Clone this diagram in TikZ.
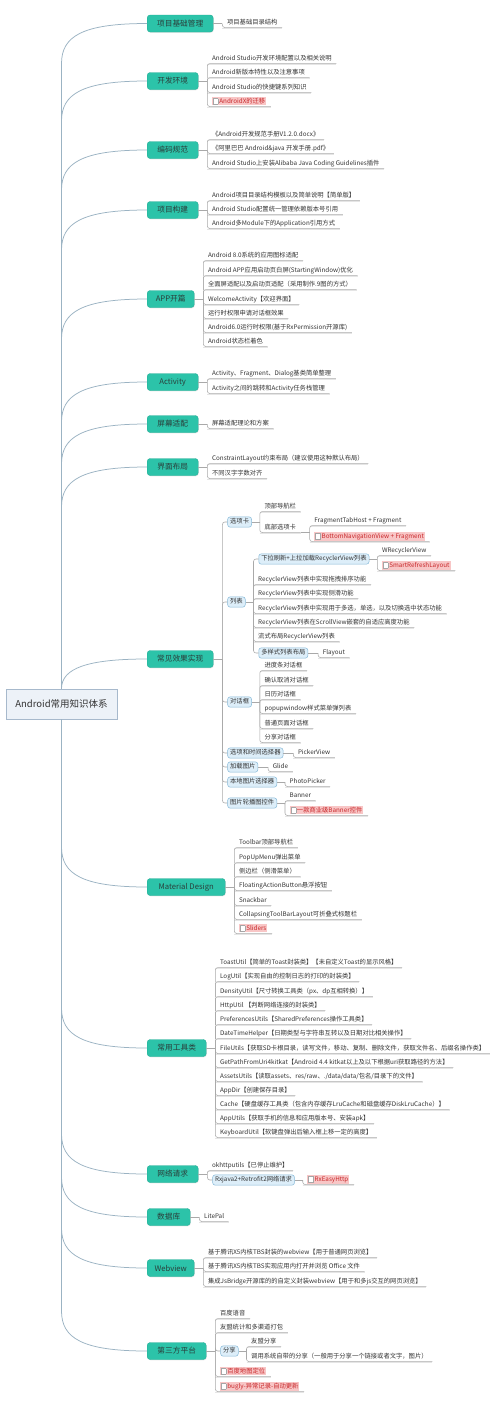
\documentclass[tikz,border=0pt]{standalone}
\usepackage{fontspec}
\setmainfont{Noto Sans CJK SC}
\usetikzlibrary{shadows}
\definecolor{mteal}{HTML}{2CC3A9}
\definecolor{mtealb}{HTML}{22AD95}
\definecolor{rootf}{HTML}{EDF2F8}
\definecolor{rootb}{HTML}{A7B9CC}
\definecolor{subf}{HTML}{DDEEF9}
\definecolor{subb}{HTML}{86B9D8}
\definecolor{pinkf}{HTML}{F8C6C6}
\definecolor{pinkt}{HTML}{C8282B}
\definecolor{txt}{HTML}{333333}
\definecolor{maintxt}{HTML}{2A3F3B}
\definecolor{conng}{HTML}{A9A9A9}
\definecolor{trunkc}{HTML}{9BB3C3}
\newcommand\lfs{\fontsize{6.3}{7}\selectfont}
\newcommand\mfs{\fontsize{7.7}{9}\selectfont}
\newcommand\rfs{\fontsize{9.5}{11}\selectfont}
\newcommand\noteicon{{\setlength\fboxsep{0pt}\setlength\fboxrule{0.35pt}\fcolorbox{gray!70}{white}{\rule{0pt}{5pt}\hspace{4.5pt}}}}
\newcommand\pinkbox[1]{{\setlength\fboxsep{1pt}\colorbox{pinkf}{\noteicon\,\textcolor{pinkt}{#1}}}}
\newcommand\leafn[4]{%
  \node[leaf] (#1) at (#2 |- 0,#3) {#4};
  \draw[lshadow] ([yshift=-0.7pt]#1.south west) -- ([yshift=-0.7pt]#1.south east);
  \draw[conn] (#2) |- (#1.south east);
}
\newcommand\subn[4]{%
  \node[sub, xshift=5pt] (#1) at (#2 |- 0,#3) {#4};
  \draw[conn] (#2) |- (#1.west);
}
\newcommand\brk[3]{\coordinate (#1) at ([xshift=#3]#2); \draw[conn] (#2) -- (#1);}
\newcommand\trunkup[2]{\draw[trunk] (root.north) -- (root.north |- 0,#2+40) .. controls (root.north |- 0,#2+13) and (82,#2) .. (#1.west);}
\newcommand\trunkdn[2]{\draw[trunk] (root.south) -- (root.south |- 0,#2-40) .. controls (root.south |- 0,#2-13) and (82,#2) .. (#1.west);}
\tikzset{
  root/.style={draw=rootb, fill=rootf, line width=0.6pt, minimum width=111pt, minimum height=30pt, font=\rfs, text=txt, inner sep=2pt,
    drop shadow={opacity=0.15, shadow xshift=0.7pt, shadow yshift=-0.8pt}},
  main/.style={fill=mteal, draw=mtealb, line width=0.4pt, rounded corners=3pt, minimum height=17pt, anchor=west, font=\mfs, text=maintxt, inner xsep=3pt,
    drop shadow={opacity=0.18, shadow xshift=0.6pt, shadow yshift=-0.8pt}},
  sub/.style={fill=subf, draw=subb, line width=0.5pt, rounded corners=2.5pt, anchor=west, font=\lfs, text=txt, inner xsep=2.5pt, inner ysep=2pt, text height=4.9pt, text depth=1.4pt},
  leaf/.style={anchor=west, font=\lfs, text=txt, inner xsep=4.5pt, inner ysep=1.2pt, text height=4.9pt, text depth=1.4pt},
  conn/.style={draw=conng, line width=0.55pt, rounded corners=2.5pt},
  trunk/.style={draw=trunkc, line width=0.75pt},
  lshadow/.style={draw=black!10, line width=0.9pt},
}
\begin{document}
\begin{tikzpicture}[x=1pt,y=-1pt]
\fill[white] (0,0) rectangle (500,1406);
\useasboundingbox (0,0) rectangle (500,1406);

% root and main topics
\node[root] (root) at (61.5,704) {Android常用知识体系};
\node[main, minimum width=66pt] (m1) at (147,23.5) {项目基础管理};
\node[main, minimum width=51pt] (m2) at (147,81) {开发环境};
\node[main, minimum width=51pt] (m3) at (147,150) {编码规范};
\node[main, minimum width=51pt] (m4) at (147,210) {项目构建};
\node[main, minimum width=47pt] (m5) at (147,299) {APP开篇};
\node[main, minimum width=51pt] (m6) at (147,382) {Activity};
\node[main, minimum width=51pt] (m7) at (147,424) {屏幕适配};
\node[main, minimum width=51pt] (m8) at (147,467) {界面布局};
\node[main, minimum width=66pt] (m9) at (147,659) {常见效果实现};
\node[main, minimum width=78pt] (m10) at (147,887) {Material Design};
\node[main, minimum width=59pt] (m11) at (147,1048) {常用工具类};
\node[main, minimum width=51pt] (m12) at (147,1174) {网络请求};
\node[main, minimum width=43pt] (m13) at (147,1217) {数据库};
\node[main, minimum width=47pt] (m14) at (147,1268) {Webview};
\node[main, minimum width=59pt] (m15) at (147,1351) {第三方平台};

% trunk
\trunkup{m1}{23.5}
\trunkup{m2}{81}
\trunkup{m3}{150}
\trunkup{m4}{210}
\trunkup{m5}{299}
\trunkup{m6}{382}
\trunkup{m7}{424}
\trunkup{m8}{467}
\draw[trunk] (root.north) .. controls (61.5,668) and (88,659) .. (m9.west);
\trunkdn{m10}{887}
\trunkdn{m11}{1048}
\trunkdn{m12}{1174}
\trunkdn{m13}{1217}
\trunkdn{m14}{1268}
\trunkdn{m15}{1351}

% 1
\brk{b1}{m1.east}{9pt}
\leafn{l1a}{b1}{23}{项目基础目录结构}
% 2
\brk{b2}{m2.east}{9pt}
\leafn{l2a}{b2}{59}{Android Studio开发环境配置以及相关说明}
\leafn{l2b}{b2}{73}{Android新版本特性以及注意事项}
\leafn{l2c}{b2}{88}{Android Studio的快捷键系列知识}
\leafn{l2d}{b2}{102}{\pinkbox{AndroidX的迁移}}
% 3
\brk{b3}{m3.east}{9pt}
\leafn{l3a}{b3}{135}{《Android开发规范手册V1.2.0.docx》}
\leafn{l3b}{b3}{149}{《阿里巴巴 Android\&java 开发手册.pdf》}
\leafn{l3c}{b3}{164}{Android Studio上安装Alibaba Java Coding Guidelines插件}
% 4
\brk{b4}{m4.east}{9pt}
\leafn{l4a}{b4}{196}{Android项目目录结构模板以及简单说明【简单版】}
\leafn{l4b}{b4}{210}{Android Studio配置统一管理依赖版本号引用}
\leafn{l4c}{b4}{224}{Android多Module下的Application引用方式}
% 5
\brk{b5}{m5.east}{9pt}
\leafn{l5a}{b5}{256}{Android 8.0系统的应用图标适配}
\leafn{l5b}{b5}{271}{Android APP应用启动页白屏(StartingWindow)优化}
\leafn{l5c}{b5}{285}{全面屏适配以及启动页适配（采用制作.9图的方式）}
\leafn{l5d}{b5}{300}{WelcomeActivity【欢迎界面】}
\leafn{l5e}{b5}{314}{运行时权限申请对话框效果}
\leafn{l5f}{b5}{328}{Android6.0运行时权限(基于RxPermission开源库)}
\leafn{l5g}{b5}{342}{Android状态栏着色}
% 6
\brk{b6}{m6.east}{9pt}
\leafn{l6a}{b6}{374}{Activity、Fragment、Dialog基类简单整理}
\leafn{l6b}{b6}{389}{Activity之间的跳转和Activity任务栈管理}
% 7
\brk{b7}{m7.east}{9pt}
\leafn{l7a}{b7}{424}{屏幕适配理论和方案}
% 8
\brk{b8}{m8.east}{9pt}
\leafn{l8a}{b8}{459}{ConstraintLayout约束布局（建议使用这种默认布局）}
\leafn{l8b}{b8}{474}{不同汉字字数对齐}
% 9
\brk{b9}{m9.east}{9pt}
\subn{s1}{b9}{522}{选项卡}
\brk{bs1}{s1.east}{8pt}
\leafn{s1a}{bs1}{507}{顶部导航栏}
\leafn{s1b}{bs1}{528}{底部选项卡}
\brk{bs1b}{s1b.south east}{9pt}
\leafn{s1b1}{bs1b}{521}{FragmentTabHost + Fragment}
\leafn{s1b2}{bs1b}{537}{\pinkbox{BottomNavigationView + Fragment}}
\subn{s2}{b9}{602}{列表}
\brk{bs2}{s2.east}{8pt}
\subn{s2a}{bs2}{559}{下拉刷新+上拉加载RecyclerView列表}
\brk{bs2a}{s2a.east}{8pt}
\leafn{s2a1}{bs2a}{551}{WRecyclerView}
\leafn{s2a2}{bs2a}{566}{\pinkbox{SmartRefreshLayout}}
\leafn{s2b}{bs2}{580}{RecyclerView列表中实现拖拽排序功能}
\leafn{s2c}{bs2}{594}{RecyclerView列表中实现侧滑功能}
\leafn{s2d}{bs2}{609}{RecyclerView列表中实现用于多选，单选，以及切换选中状态功能}
\leafn{s2e}{bs2}{623}{RecyclerView列表在ScrollView嵌套的自适应高度功能}
\leafn{s2f}{bs2}{637}{流式布局RecyclerView列表}
\subn{s2g}{bs2}{653}{多样式列表布局}
\brk{bs2g}{s2g.east}{10pt}
\leafn{s2g1}{bs2g}{653}{Flayout}
\subn{s3}{b9}{702}{对话框}
\brk{bs3}{s3.east}{8pt}
\leafn{s3a}{bs3}{666}{进度条对话框}
\leafn{s3b}{bs3}{681}{确认取消对话框}
\leafn{s3c}{bs3}{695}{日历对话框}
\leafn{s3d}{bs3}{709}{popupwindow样式菜单弹列表}
\leafn{s3e}{bs3}{724}{普通页面对话框}
\leafn{s3f}{bs3}{738}{分享对话框}
\subn{s4}{b9}{753}{选项和时间选择器}
\brk{bs4}{s4.east}{10pt}
\leafn{s4a}{bs4}{753}{PickerView}
\subn{s5}{b9}{767}{加载图片}
\brk{bs5}{s5.east}{10pt}
\leafn{s5a}{bs5}{767}{Glide}
\subn{s6}{b9}{782}{本地图片选择器}
\brk{bs6}{s6.east}{8pt}
\leafn{s6a}{bs6}{782}{PhotoPicker}
\subn{s7}{b9}{803}{图片轮播图控件}
\brk{bs7}{s7.east}{8pt}
\leafn{s7a}{bs7}{796}{Banner}
\leafn{s7b}{bs7}{811}{\pinkbox{一款商业级Banner控件}}
% 10
\brk{b10}{m10.east}{9pt}
\leafn{l10a}{b10}{843}{Toolbar顶部导航栏}
\leafn{l10b}{b10}{858}{PopUpMenu弹出菜单}
\leafn{l10c}{b10}{872}{侧边栏（侧滑菜单）}
\leafn{l10d}{b10}{886}{FloatingActionButton悬浮按钮}
\leafn{l10e}{b10}{901}{Snackbar}
\leafn{l10f}{b10}{915}{CollapsingToolBarLayout可折叠式标题栏}
\leafn{l10g}{b10}{929}{\pinkbox{Sliders}}
% 11
\brk{b11}{m11.east}{9pt}
\leafn{l11a}{b11}{963}{ToastUtil【简单的Toast封装类】【未自定义Toast的显示风格】}
\leafn{l11b}{b11}{977}{LogUtil【实现自由的控制日志的打印的封装类】}
\leafn{l11c}{b11}{992}{DensityUtil【尺寸转换工具类（px、dp互相转换）】}
\leafn{l11d}{b11}{1006}{HttpUtil 【判断网络连接的封装类】}
\leafn{l11e}{b11}{1020}{PreferencesUtils【SharedPreferences操作工具类】}
\leafn{l11f}{b11}{1034}{DateTimeHelper【日期类型与字符串互转以及日期对比相关操作】}
\leafn{l11g}{b11}{1049}{FileUtils【获取SD卡根目录，读写文件，移动、复制、删除文件，获取文件名、后缀名操作类】}
\leafn{l11h}{b11}{1063}{GetPathFromUri4kitkat【Android 4.4 kitkat以上及以下根据uri获取路径的方法】}
\leafn{l11i}{b11}{1077}{AssetsUtils【读取assets、res/raw、./data/data/包名/目录下的文件】}
\leafn{l11j}{b11}{1091}{AppDir【创建保存目录】}
\leafn{l11k}{b11}{1105}{Cache【硬盘缓存工具类（包含内存缓存LruCache和磁盘缓存DiskLruCache）】}
\leafn{l11l}{b11}{1119}{AppUtils【获取手机的信息和应用版本号、安装apk】}
\leafn{l11m}{b11}{1133}{KeyboardUtil【软键盘弹出后输入框上移一定的高度】}
% 12
\brk{b12}{m12.east}{9pt}
\leafn{l12a}{b12}{1166}{okhttputils【已停止维护】}
\subn{l12b}{b12}{1180}{Rxjava2+Retrofit2网络请求}
\brk{bl12b}{l12b.east}{8pt}
\leafn{l12b1}{bl12b}{1180}{\pinkbox{RxEasyHttp}}
% 13
\brk{b13}{m13.east}{9pt}
\leafn{l13a}{b13}{1217}{LitePal}
% 14
\brk{b14}{m14.east}{9pt}
\leafn{l14a}{b14}{1253}{基于腾讯X5内核TBS封装的webview【用于普通网页浏览】}
\leafn{l14b}{b14}{1267}{基于腾讯X5内核TBS实现应用内打开并浏览 Office 文件}
\leafn{l14c}{b14}{1282}{集成JsBridge开源库的的自定义封装webview【用于和多js交互的网页浏览】}
% 15
\brk{b15}{m15.east}{9pt}
\leafn{l15a}{b15}{1314}{百度语音}
\leafn{l15b}{b15}{1328}{友盟统计和多渠道打包}
\subn{l15c}{b15}{1351}{分享}
\brk{bl15c}{l15c.east}{8pt}
\leafn{l15c1}{bl15c}{1342}{友盟分享}
\leafn{l15c2}{bl15c}{1357}{调用系统自带的分享（一般用于分享一个链接或者文字，图片）}
\leafn{l15d}{b15}{1372}{\pinkbox{百度地图定位}}
\leafn{l15e}{b15}{1387}{\pinkbox{bugly-异常记录-自动更新}}
\end{tikzpicture}
\end{document}
